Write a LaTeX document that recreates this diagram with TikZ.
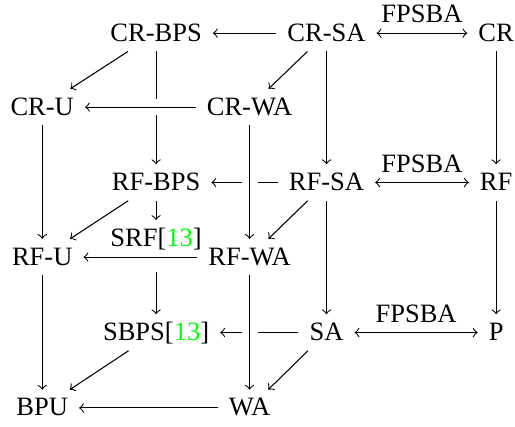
\documentclass[tikz,border=0pt]{standalone}
\usepackage{fontspec}
\setmainfont{Liberation Serif}
\usepackage{xcolor}
\usepackage{tikz}

\tikzset{
    cell/.style={text height=0.85em, text depth=0.25em, inner xsep=0.4em, inner ysep=0.12em},
    over/.style={preaction={draw=white, -, line width=6pt}}
}

\begin{document}
\begin{tikzpicture}[every node/.style={cell}, >=to]
    \useasboundingbox (0, 0) rectangle (6.83, -5.65);

    \node (crbps) at (2.07, -0.44) {CR-BPS};
    \node (crsa) at (4.33, -0.44) {CR-SA};
    \node (cr) at (6.58, -0.44) {CR};
    \node (cru) at (0.56, -1.42) {CR-U};
    \node (crwa) at (3.31, -1.42) {CR-WA};

    \node (rfbps) at (2.07, -2.42) {RF-BPS};
    \node (rfsa) at (4.33, -2.42) {RF-SA};
    \node (rf) at (6.58, -2.42) {RF};
    \node (srf) at (2.07, -3.16) {SRF[\textcolor{green}{13}]};
    \node (rfu) at (0.56, -3.41) {RF-U};
    \node (rfwa) at (3.31, -3.41) {RF-WA};

    \node (sbps) at (2.07, -4.41) {SBPS[\textcolor{green}{13}]};
    \node (sa) at (4.33, -4.41) {SA};
    \node (p) at (6.58, -4.41) {P};
    \node (bpu) at (0.56, -5.41) {BPU};
    \node (wa) at (3.31, -5.41) {WA};

    \draw[->] (crsa) -- (crbps);
    \draw[<->] (crsa) -- node[above] {FPSBA} (cr);
    \draw[->] (crbps) -- (cru);
    \draw[->] (crsa) -- (crwa);
    \draw[->] (crbps) -- (rfbps);
    \draw[->, over] (crwa) -- (cru);
    \draw[->] (cru) -- (rfu);
    \draw[->] (crsa) -- (rfsa);
    \draw[->] (cr) -- (rf);

    \draw[->] (rfsa) -- (rfbps);
    \draw[->, over] (crwa) -- (rfwa);
    \draw[<->] (rfsa) -- node[above] {FPSBA} (rf);
    \draw[->] (rfbps) -- (rfu);
    \draw[->] (rfsa) -- (rfwa);
    \draw[->] (rfbps) -- (srf);
    \draw[->] (rfwa) -- (rfu);
    \draw[->, shorten <=6pt] (srf) -- (sbps);
    \draw[->] (rfu) -- (bpu);
    \draw[->] (rfsa) -- (sa);
    \draw[->] (rf) -- (p);

    \draw[->] (sa) -- (sbps);
    \draw[->, over] (rfwa) -- (wa);
    \draw[<->] (sa) -- node[above] {FPSBA} (p);
    \draw[->] (sbps) -- (bpu);
    \draw[->] (sa) -- (wa);
    \draw[->] (wa) -- (bpu);
\end{tikzpicture}
\end{document}
